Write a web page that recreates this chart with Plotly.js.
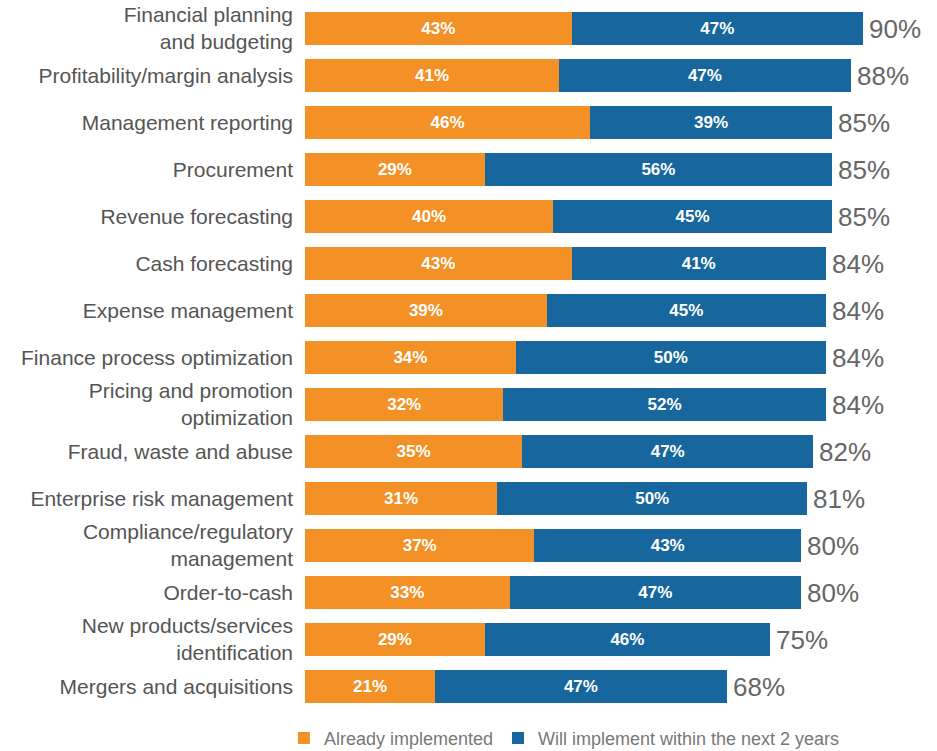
<!DOCTYPE html>
<html>
<head>
<meta charset="utf-8">
<script src="https://cdn.plot.ly/plotly-3.0.1.min.js"></script>
<style>html,body{margin:0;padding:0;background:#fff;}#chart{width:937px;height:751px;}</style>
</head>
<body>
<div id="chart"></div>
<script>
var categories = [
  "Financial planning<br>and budgeting",
  "Profitability/margin analysis",
  "Management reporting",
  "Procurement",
  "Revenue forecasting",
  "Cash forecasting",
  "Expense management",
  "Finance process optimization",
  "Pricing and promotion<br>optimization",
  "Fraud, waste and abuse",
  "Enterprise risk management",
  "Compliance/regulatory<br>management",
  "Order-to-cash",
  "New products/services<br>identification",
  "Mergers and acquisitions"
];
var alreadyImplemented = [43, 41, 46, 29, 40, 43, 39, 34, 32, 35, 31, 37, 33, 29, 21];
var willImplement = [47, 47, 39, 56, 45, 41, 45, 50, 52, 47, 50, 43, 47, 46, 47];
var totals = [90, 88, 85, 85, 85, 84, 84, 84, 84, 82, 81, 80, 80, 75, 68];
var seriesNames = ["Already implemented", "Will implement within the next 2 years"];

var FONT = "Liberation Sans, Arial, Helvetica, sans-serif";

var traces = [
  {
    type: "bar", orientation: "h", name: seriesNames[0],
    y: categories, x: alreadyImplemented,
    marker: {color: "#F39126"},
    texttemplate: "%{x}%", textposition: "inside", insidetextanchor: "middle",
    textangle: 0, constraintext: "none",
    textfont: {family: FONT, size: 17, color: "#ffffff", weight: "bold"},
    hoverinfo: "skip"
  },
  {
    type: "bar", orientation: "h", name: seriesNames[1],
    y: categories, x: willImplement,
    marker: {color: "#17679E"},
    texttemplate: "%{x}%", textposition: "inside", insidetextanchor: "middle",
    textangle: 0, constraintext: "none",
    textfont: {family: FONT, size: 17, color: "#ffffff", weight: "bold"},
    hoverinfo: "skip"
  }
];

var annotations = categories.map(function (c, i) {
  return {
    x: totals[i], y: c, xref: "x", yref: "y",
    text: totals[i] + "%", showarrow: false,
    xanchor: "left", yanchor: "middle", xshift: 4,
    font: {family: FONT, size: 26, color: "#666666"}
  };
});

var layout = {
  width: 937, height: 751,
  margin: {l: 305, r: 12, t: 5, b: 41, autoexpand: false},
  barmode: "stack",
  bargap: 0.28,
  paper_bgcolor: "#ffffff", plot_bgcolor: "#ffffff",
  font: {family: FONT, color: "#555555"},
  xaxis: {range: [0, 100], visible: false, fixedrange: true},
  yaxis: {
    autorange: "reversed", showgrid: false, zeroline: false, showline: false,
    ticks: "", ticklabelstandoff: 11,
    tickfont: {family: FONT, size: 21, color: "#555555"}
  },
  showlegend: true,
  legend: {
    orientation: "h",
    xref: "container", x: 0.303, xanchor: "left",
    yref: "container", y: 0.017, yanchor: "middle",
    font: {family: FONT, size: 18, color: "#777777"},
    traceorder: "normal", itemclick: false, itemdoubleclick: false
  },
  annotations: annotations
};

Plotly.newPlot("chart", traces, layout, {displayModeBar: false, staticPlot: true});
</script>
</body>
</html>
